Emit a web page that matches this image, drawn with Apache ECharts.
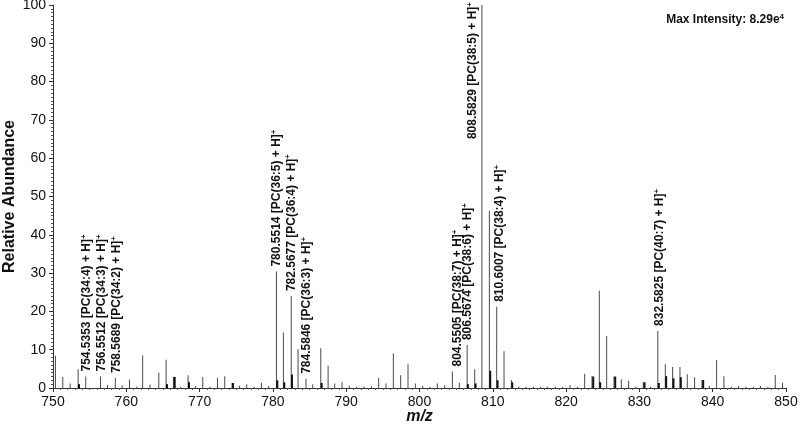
<!DOCTYPE html>
<html><head><meta charset="utf-8">
<script src="https://cdn.jsdelivr.net/npm/echarts@6/dist/echarts.min.js"></script>
<style>html,body{margin:0;padding:0;background:#fff}#c{width:800px;height:429px}</style>
</head><body><div id="c"></div>
<script>
// Main peaks (m/z, relative abundance %)
const peakMz = [750.4,751.4,752.4,753.5,754.5353,756.5512,757.5,758.5689,759.5,760.5,761.5,762.3,763.3,764.5,765.5,766.5,767.5,768.5,769.5,770.5,771.5,772.5,773.5,774.5,775.5,776.5,777.5,778.5,779.5,
  780.5514,781.5,782.5677,783.5,784.5846,785.5,786.6,787.6,788.5,789.5,790.5,791.5,792.5,793.5,794.5,795.5,796.5,797.5,798.5,799.5,800.5,801.5,802.5,803.5,
  804.5505,805.5,806.5674,807.6,808.5829,809.6,810.6007,811.6,812.6,813.6,814.6,815.6,816.6,817.5,818.6,819.6,820.6,821.6,822.6,823.6,824.6,825.6,826.6,827.6,828.6,829.6,830.6,831.6,
  832.5825,833.6,834.6,835.6,836.6,837.6,838.6,839.6,840.6,841.6,842.6,843.6,844.6,845.6,846.6,847.6,848.6,849.6];
const peakAbundance = [8.4,2.9,1.2,4.9,3.0,3.0,0.8,2.6,0.7,2.2,0.4,8.5,0.9,4.0,7.4,2.9,0.3,3.3,0.5,2.9,0.3,2.7,3.1,1.3,0.6,1.0,0.3,1.4,0.5,
  30.4,14.5,24.0,10.1,2.4,1.0,10.4,5.8,1.2,1.5,0.6,0.3,0.4,0.5,2.6,1.2,9.0,3.3,6.2,1.2,0.5,0.3,1.2,0.7,
  4.3,1.4,11.2,4.9,100,46.3,21.2,9.6,2.1,0.4,0.3,0.3,0.3,0.3,0.3,0.3,0.7,0.3,3.7,3.1,25.4,13.6,3.0,2.3,1.9,0.4,1.5,0.3,
  14.9,6.2,5.5,5.5,3.6,2.8,2.1,0.5,7.3,3.1,0.3,0.5,0.3,0.3,0.5,0.3,3.4,1.4];
// Overlapping dark minor peaks
const subMz = [753.55,765.55,766.6,768.55,774.55,780.6,781.55,782.6,786.65,806.6,807.65,809.65,810.65,812.65,823.7,824.65,826.7,830.7,832.65,833.65,834.65,835.65,838.7];
const subAbundance = [1.0,1.0,2.9,1.5,1.3,2.0,1.5,3.5,1.3,1.0,1.2,4.5,2.0,1.5,3.0,1.5,3.0,1.5,1.3,3.1,2.5,2.8,2.1];
// Annotations
const annMz = [754.5353,756.5512,758.5689,780.5514,782.5677,784.5846,804.5505,806.5674,808.5829,810.6007,832.5825];
const annLipid = ['PC(34:4)','PC(34:3)','PC(34:2)','PC(36:5)','PC(36:4)','PC(36:3)','PC(38:7)','PC(38:6)','PC(38:5)','PC(38:4)','PC(40:7)'];
const annDx = [1,1,1,0,0,1,5,1,-9,3,2];
const xMin = 750, xMax = 850, xStep = 10;
const yMin = 0, yMax = 100, yStep = 10;

const FONT = 'Liberation Sans, Arial, sans-serif';
const rich = {
  t: {fontSize: 12, fontWeight: 'bold', fontFamily: FONT, color: '#111', lineHeight: 14},
  s: {fontSize: 8, fontWeight: 'bold', fontFamily: FONT, color: '#111', lineHeight: 8, verticalAlign: 'top'}
};
const mainData = peakMz.map((x, i) => {
  const item = {value: [x, peakAbundance[i]]};
  const k = annMz.indexOf(x);
  if (k >= 0) {
    const top = annDx[k] < -5;
    item.label = {
      show: true,
      formatter: '{t|' + annMz[k].toFixed(4) + ' [' + annLipid[k] + ' + H]}{s|+}',
      rich: rich,
      rotate: 90,
      position: top ? [0.5 + annDx[k], -3] : [0.5 + annDx[k], -5],
      align: top ? 'right' : 'left',
      verticalAlign: 'middle'
    };
  }
  return item;
});
const subData = subMz.map((x, i) => [x, subAbundance[i]]);

const chart = echarts.init(document.getElementById('c'), null, {renderer: 'canvas'});
chart.setOption({
  animation: false,
  backgroundColor: '#fff',
  title: {
    text: '{a|Max Intensity: 8.29e}{b|4}',
    right: 11, top: 8,
    textStyle: {
      rich: {
        a: {fontSize: 12, fontWeight: 'bold', fontFamily: FONT, color: '#111', lineHeight: 14},
        b: {fontSize: 8, fontWeight: 'bold', fontFamily: FONT, color: '#111', lineHeight: 8, verticalAlign: 'top'}
      }
    }
  },
  grid: {left: 53, right: 14, top: 5, bottom: 41, containLabel: false, outerBoundsMode: 'none'},
  xAxis: {
    type: 'value', min: xMin, max: xMax, interval: xStep,
    name: 'm/z', nameLocation: 'middle', nameGap: 21, nameMoveOverlap: false,
    nameTextStyle: {fontSize: 16, fontWeight: 'bold', fontStyle: 'italic', fontFamily: FONT, color: '#111'},
    axisLine: {lineStyle: {color: '#333', width: 1}},
    axisTick: {show: true, length: 4, lineStyle: {color: '#333'}},
    minorTick: {show: true, splitNumber: 10, length: 2, lineStyle: {color: '#555'}},
    axisLabel: {fontSize: 14, color: '#111', margin: 7, fontFamily: FONT},
    splitLine: {show: false}
  },
  yAxis: {
    type: 'value', min: yMin, max: yMax, interval: yStep,
    name: 'Relative Abundance', nameLocation: 'middle', nameGap: 35, nameMoveOverlap: false,
    nameTextStyle: {fontSize: 16, fontWeight: 'bold', fontFamily: FONT, color: '#111'},
    axisLine: {show: true, lineStyle: {color: '#333', width: 1}},
    axisTick: {show: true, length: 4, lineStyle: {color: '#333'}},
    minorTick: {show: true, splitNumber: 10, length: 2, lineStyle: {color: '#555'}},
    axisLabel: {fontSize: 14, color: '#111', margin: 7, fontFamily: FONT},
    splitLine: {show: false}
  },
  series: [
    {type: 'bar', data: mainData, barWidth: 1, barGap: '-100%', itemStyle: {color: '#4a4a4a'}, z: 2},
    {type: 'bar', data: subData, barWidth: 2, barGap: '-100%', itemStyle: {color: '#111'}, z: 3}
  ]
});
</script>
</body></html>
